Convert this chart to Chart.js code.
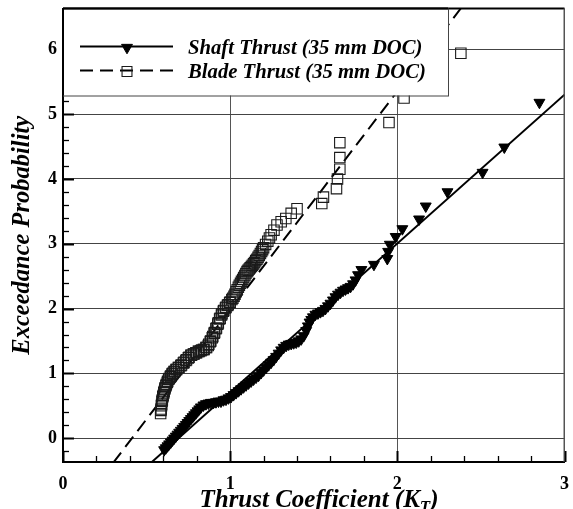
<!DOCTYPE html>
<html>
<head>
<meta charset="utf-8">
<script src="https://cdn.jsdelivr.net/npm/chart.js@4/dist/chart.umd.min.js"></script>
<style>
  html, body { margin: 0; padding: 0; background: #fff; }
  #wrap { width: 573px; height: 509px; }
</style>
</head>
<body>
<div id="wrap"><canvas id="c" width="573" height="509"></canvas></div>
<script>
// ---- data ----
const legendLabels = ['Shaft Thrust (35 mm DOC)', 'Blade Thrust (35 mm DOC)'];
const xTickValues = [0, 1, 2, 3];
const yTickValues = [0, 1, 2, 3, 4, 5, 6];

const shaftX = [0.605,0.615,0.625,0.635,0.645,0.655,0.665,0.675,0.685,0.695,0.705,0.715,0.725,0.735,0.745,0.755,0.765,0.775,0.785,0.795,0.805,0.815,0.825,0.84,0.855,0.87,0.885,0.90,0.915,0.93,0.945,0.96,0.975,0.99,1.005,1.02,1.035,1.05,1.065,1.08,1.095,1.11,1.125,1.14,1.155,1.17,1.185,1.20,1.215,1.23,1.245,1.26,1.275,1.29,1.305,1.32,1.335,1.35,1.365,1.38,1.395,1.41,1.425,1.44,1.455,1.465,1.475,1.485,1.495,1.51,1.525,1.54,1.555,1.57,1.585,1.60,1.615,1.63,1.645,1.66,1.675,1.69,1.705,1.72,1.735,1.75,1.765,1.785,1.86,1.94,1.945,1.955,1.99,2.03,2.13,2.17,2.30,2.51,2.64,2.85];
const shaftY = [-0.18,-0.15,-0.12,-0.09,-0.06,-0.03,0.00,0.03,0.06,0.09,0.12,0.15,0.18,0.21,0.24,0.27,0.30,0.33,0.36,0.39,0.42,0.45,0.48,0.51,0.53,0.54,0.55,0.55,0.56,0.57,0.57,0.59,0.60,0.62,0.64,0.67,0.70,0.73,0.76,0.79,0.82,0.85,0.88,0.91,0.94,0.97,1.01,1.05,1.09,1.13,1.17,1.21,1.26,1.31,1.36,1.40,1.43,1.45,1.46,1.47,1.48,1.50,1.53,1.58,1.66,1.73,1.79,1.83,1.87,1.91,1.93,1.95,1.97,2.00,2.04,2.08,2.13,2.18,2.22,2.25,2.28,2.30,2.32,2.34,2.38,2.44,2.52,2.60,2.68,2.77,2.88,2.99,3.11,3.23,3.38,3.58,3.80,4.10,4.49,5.18];

const bladeX = [0.584,0.586,0.587,0.589,0.590,0.592,0.594,0.597,0.599,0.603,0.605,0.609,0.611,0.616,0.618,0.624,0.626,0.632,0.635,0.642,0.645,0.652,0.656,0.664,0.668,0.676,0.680,0.690,0.694,0.705,0.709,0.720,0.724,0.735,0.739,0.750,0.754,0.765,0.769,0.780,0.784,0.795,0.799,0.810,0.814,0.825,0.829,0.840,0.844,0.855,0.859,0.869,0.872,0.881,0.884,0.893,0.896,0.904,0.907,0.915,0.918,0.926,0.929,0.937,0.940,0.948,0.951,0.959,0.962,0.972,0.975,0.984,0.988,0.997,1.000,1.010,1.016,1.023,1.029,1.036,1.042,1.049,1.055,1.062,1.068,1.075,1.081,1.088,1.094,1.101,1.107,1.114,1.120,1.127,1.133,1.140,1.146,1.153,1.160,1.167,1.174,1.181,1.188,1.194,1.200,1.212,1.225,1.235,1.245,1.262,1.280,1.305,1.333,1.365,1.400,1.548,1.558,1.636,1.642,1.656,1.656,1.656,1.950,2.040,2.380];
const bladeY = [0.38,0.43,0.45,0.50,0.52,0.57,0.59,0.64,0.66,0.70,0.72,0.76,0.78,0.81,0.83,0.86,0.88,0.91,0.92,0.95,0.96,0.99,1.00,1.03,1.03,1.06,1.06,1.09,1.09,1.12,1.13,1.16,1.17,1.20,1.21,1.24,1.25,1.28,1.28,1.30,1.30,1.32,1.32,1.34,1.34,1.35,1.36,1.37,1.37,1.40,1.40,1.43,1.45,1.49,1.50,1.55,1.57,1.62,1.63,1.69,1.70,1.76,1.78,1.84,1.85,1.90,1.92,1.96,1.97,2.01,2.02,2.05,2.06,2.09,2.10,2.14,2.16,2.19,2.22,2.26,2.29,2.33,2.36,2.39,2.42,2.45,2.48,2.51,2.54,2.57,2.59,2.61,2.63,2.65,2.67,2.69,2.71,2.74,2.76,2.79,2.82,2.85,2.88,2.91,2.94,2.99,3.04,3.09,3.14,3.21,3.29,3.34,3.39,3.47,3.54,3.62,3.72,3.85,4.00,4.15,4.33,4.56,4.87,5.25,5.94];

const shaftFitX = [0.53, 3.00];
const shaftFitY = [-0.37, 5.30];
const bladeFitX = [0.30, 2.40];
const bladeFitY = [-0.38, 6.70];

// ---- chart ----
const toPts = (xs, ys) => xs.map((v, i) => ({ x: v, y: ys[i] }));
const SERIF = "'Liberation Serif', 'Times New Roman', serif";

const triStyle = { pointStyle: 'triangle', rotation: 180, radius: 6.3, borderWidth: 1, fill: '#000', stroke: '#000' };
const sqStyle = { pointStyle: 'rect', rotation: 0, radius: 7.0, borderWidth: 1.1, fill: null, stroke: '#1a1a1a' };

const decor = {
  id: 'decor',
  afterDraw(chart) {
    const { ctx, chartArea: a, scales: { x, y } } = chart;
    ctx.save();
    ctx.strokeStyle = '#000';
    for (let i = -1; i <= 33; i++) {
      const v = i * 0.2;
      if (v < y.min || v > y.max) continue;
      const p = Math.round(y.getPixelForValue(v)) + 0.5;
      const major = Math.abs(v - Math.round(v)) < 1e-6;
      ctx.lineWidth = major ? 2 : 1.3;
      ctx.beginPath(); ctx.moveTo(a.left, p); ctx.lineTo(a.left + (major ? 11 : 6), p); ctx.stroke();
    }
    for (let i = 0; i <= 15; i++) {
      const v = i * 0.2;
      const p = Math.round(x.getPixelForValue(v)) + 0.5;
      const major = Math.abs(v - Math.round(v)) < 1e-6;
      ctx.lineWidth = major ? 2 : 1.3;
      ctx.beginPath(); ctx.moveTo(p, a.bottom); ctx.lineTo(p, a.bottom - (major ? 11 : 6)); ctx.stroke();
    }
    ctx.lineWidth = 2;
    ctx.beginPath(); ctx.moveTo(a.left, a.top); ctx.lineTo(a.right, a.top); ctx.stroke();
    ctx.lineWidth = 1; ctx.strokeStyle = '#555';
    ctx.beginPath(); ctx.moveTo(a.right - 0.5, a.top); ctx.lineTo(a.right - 0.5, a.bottom); ctx.stroke();

    // legend box
    const lx = a.left, ly = a.top, lw = 385, lh = 87;
    ctx.fillStyle = '#fff';
    ctx.fillRect(lx, ly, lw, lh);
    ctx.strokeStyle = '#444'; ctx.lineWidth = 1;
    ctx.strokeRect(lx + 0.5, ly + 0.5, lw, lh);
    ctx.strokeStyle = '#000'; ctx.lineWidth = 2;
    ctx.beginPath(); ctx.moveTo(a.left, a.top); ctx.lineTo(lx + lw, a.top); ctx.stroke();
    ctx.beginPath(); ctx.moveTo(a.left, a.top); ctx.lineTo(a.left, ly + lh); ctx.stroke();

    const rows = [
      { label: legendLabels[0], dash: [], style: triStyle, y: ly + 38 },
      { label: legendLabels[1], dash: [13, 7], style: sqStyle, y: ly + 62 }
    ];
    rows.forEach(r => {
      ctx.save();
      ctx.strokeStyle = '#000'; ctx.lineWidth = 2; ctx.setLineDash(r.dash);
      ctx.beginPath(); ctx.moveTo(lx + 17, r.y); ctx.lineTo(lx + 110, r.y); ctx.stroke();
      ctx.restore();
      ctx.save();
      ctx.fillStyle = r.style.fill || 'rgba(0,0,0,0)';
      ctx.strokeStyle = r.style.stroke;
      ctx.lineWidth = r.style.borderWidth;
      Chart.helpers.drawPoint(ctx, r.style, lx + 64, r.y + 1);
      ctx.restore();
      ctx.fillStyle = '#000';
      ctx.font = "italic bold 20.7px " + SERIF;
      ctx.textAlign = 'left'; ctx.textBaseline = 'alphabetic';
      ctx.fillText(r.label, lx + 125, r.y + 7);
    });

    // x-axis title with subscript
    ctx.fillStyle = '#000';
    ctx.textBaseline = 'alphabetic'; ctx.textAlign = 'left';
    const main = 'Thrust Coefficient (K';
    const big = "italic bold 25px " + SERIF, small = "italic bold 17px " + SERIF;
    ctx.font = big; const w1 = ctx.measureText(main).width; const w3 = ctx.measureText(')').width;
    ctx.font = small; const w2 = ctx.measureText('T').width;
    const total = w1 + w2 + w3;
    const cx = 319, base = 507;
    let sx = cx - total / 2;
    ctx.font = big; ctx.fillText(main, sx, base);
    ctx.font = small; ctx.fillText('T', sx + w1, base + 5);
    ctx.font = big; ctx.fillText(')', sx + w1 + w2, base);
    ctx.restore();
  }
};

new Chart(document.getElementById('c'), {
  type: 'scatter',
  data: {
    datasets: [
      { label: legendLabels[0], data: toPts(shaftX, shaftY), pointStyle: 'triangle', rotation: 180, pointRadius: 6.3, pointHoverRadius: 6.3,
        backgroundColor: '#000', borderColor: '#000', borderWidth: 1, showLine: false, order: 1 },
      { label: legendLabels[1], data: toPts(bladeX, bladeY), pointStyle: 'rect', pointRadius: 7.4, pointHoverRadius: 7.4,
        backgroundColor: 'rgba(0,0,0,0)', borderColor: '#1a1a1a', borderWidth: 1.1, showLine: false, order: 2 },
      { label: 'shaft fit', data: toPts(shaftFitX, shaftFitY), showLine: true, pointRadius: 0, borderColor: '#000', borderWidth: 2, fill: false, order: 3 },
      { label: 'blade fit', data: toPts(bladeFitX, bladeFitY), showLine: true, pointRadius: 0, borderColor: '#000', borderWidth: 2, borderDash: [13, 7], fill: false, order: 4 }
    ]
  },
  options: {
    responsive: false,
    animation: false,
    events: [],
    layout: { padding: { top: 5, left: 0, right: 0, bottom: 0 } },
    plugins: { legend: { display: false }, tooltip: { enabled: false } },
    scales: {
      x: {
        type: 'linear', min: 0, max: 3,
        afterBuildTicks: s => { s.ticks = xTickValues.map(v => ({ value: v })); },
        afterFit: s => { s.height = 47; s.paddingLeft = 0; s.paddingRight = 0; },
        grid: { color: '#555', lineWidth: 1, drawTicks: false },
        border: { display: true, color: '#000', width: 2 },
        ticks: { color: '#000', padding: 12, font: { family: SERIF, size: 18, weight: 'bold' } },
        title: { display: false }
      },
      y: {
        type: 'linear', min: -0.367, max: 6.63,
        afterBuildTicks: s => { s.ticks = yTickValues.map(v => ({ value: v })); },
        afterFit: s => { s.width = 63; s.paddingTop = 0; s.paddingBottom = 0; },
        grid: { color: '#444', lineWidth: 1, drawTicks: false },
        border: { display: true, color: '#000', width: 2 },
        ticks: { color: '#000', padding: 6, font: { family: SERIF, size: 18, weight: 'bold' } },
        title: { display: true, text: 'Exceedance Probability', color: '#000', padding: { top: 8, bottom: 0 },
                 font: { family: SERIF, size: 24.5, weight: 'bold', style: 'italic' } }
      }
    }
  },
  plugins: [decor]
});
</script>
</body>
</html>
